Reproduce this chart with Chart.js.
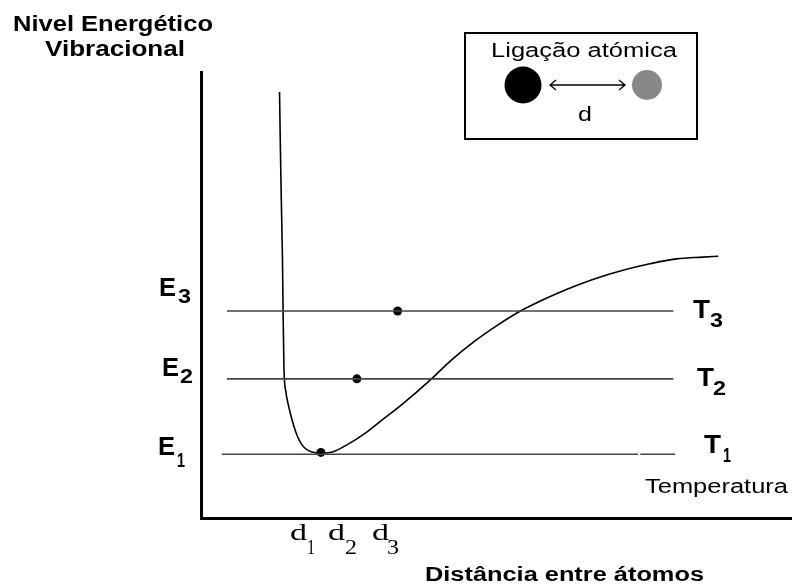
<!DOCTYPE html>
<html>
<head>
<meta charset="utf-8">
<script src="https://cdn.jsdelivr.net/npm/chart.js@4.4.0/dist/chart.umd.min.js"></script>
<style>
  html, body { margin: 0; padding: 0; background: #fff; }
  #wrap { width: 796px; height: 584px; }
</style>
</head>
<body>
<div id="wrap"><canvas id="c" width="796" height="584"></canvas></div>
<script>
// ---- data (x: distance, y: vibrational energy; arbitrary units 0..100) ----
const curveX = [13.3, 13.45, 13.6, 13.8, 13.9, 14.05, 14.35, 14.8, 15.3, 16.1, 17.1, 18.8, 20.3, 22.2, 24.7, 27.9, 30.9, 33.9, 36.3, 38.8, 42.4, 46.4, 50.3, 54.1, 58.2, 62.0, 66.6, 71.6, 76.0, 80.5, 85.0, 87.6];
const curveY = [95.5, 82.5, 71.3, 57.8, 46.4, 33.5, 28.5, 25.3, 22.6, 19.1, 16.4, 14.8, 14.6, 14.8, 16.4, 19.1, 22.2, 25.3, 28.0, 30.9, 35.4, 39.7, 43.3, 46.4, 49.1, 51.3, 53.6, 55.6, 57.0, 58.1, 58.5, 58.7];
const levels = [14.3, 31.2, 46.4];          // E1, E2, E3
const levelStart = [3.5, 4.4, 4.4];
const levelEnd = [80.3, 80.0, 80.0];
const e1GapFrom = 74.0, e1GapTo = 74.4;
const dotX = [20.3, 26.4, 33.3];            // d1, d2, d3
const energyLabels = ['E', 'E', 'E'];
const tempLabels = ['T', 'T', 'T'];
const distLabels = ['d', 'd', 'd'];
const subs = ['1', '2', '3'];
const yTitle = ['Nivel Energético', 'Vibracional'];
const xTitle = 'Distância entre átomos';
const tempTitle = 'Temperatura';
const insetTitle = 'Ligação atómica';
const insetD = 'd';

const curve = curveX.map((x, i) => ({ x, y: curveY[i] }));
const levelSets = levels.map((y, i) => {
  if (i === 0) {
    return [{ x: levelStart[i], y }, { x: e1GapFrom, y }, { x: (e1GapFrom + e1GapTo) / 2, y: null }, { x: e1GapTo, y }, { x: levelEnd[i], y }];
  }
  return [{ x: levelStart[i], y }, { x: levelEnd[i], y }];
});
const dots = dotX.map((x, i) => ({ x, y: levels[i] + (i === 0 ? 0.4 : 0) }));

function txt(ctx, s, left, base, font, w) {
  ctx.save();
  ctx.font = font;
  const m = ctx.measureText(s).width;
  const sx = w ? w / m : 1;
  ctx.translate(left, base);
  ctx.scale(sx, 1);
  ctx.textAlign = 'left';
  ctx.textBaseline = 'alphabetic';
  ctx.fillStyle = '#000';
  ctx.fillText(s, 0, 0);
  ctx.restore();
}

const decor = {
  id: 'decor',
  afterDraw(chart) {
    const ctx = chart.ctx;
    const SANS = '"Liberation Sans", Arial, sans-serif';
    const SERIF = '"Liberation Serif", "Times New Roman", serif';
    // axis titles
    txt(ctx, yTitle[0], 13, 31, 'bold 22px ' + SANS, 200);
    txt(ctx, yTitle[1], 45, 56, 'bold 22px ' + SANS, 140);
    txt(ctx, xTitle, 425, 581, 'bold 20px ' + SANS, 279);
    txt(ctx, tempTitle, 645, 493, '20px ' + SANS, 143);

    // energy labels
    const eLeft = [158, 162, 159], eBase = [455, 376, 296], sLeft = [177, 180, 178], sBase = [467, 383, 303];
    for (let i = 0; i < 3; i++) {
      txt(ctx, energyLabels[i], eLeft[i], eBase[i], 'bold 25px ' + SANS, 17);
      txt(ctx, subs[i], sLeft[i], sBase[i], 'bold 20px ' + SANS, i === 0 ? 8 : 13);
    }
    // temperature labels
    const tLeft = [704, 697, 693], tBase = [453, 386, 318], tsLeft = [723, 713, 710], tsBase = [462, 395, 327];
    for (let i = 0; i < 3; i++) {
      txt(ctx, tempLabels[i], tLeft[i], tBase[i], 'bold 25px ' + SANS, 17);
      txt(ctx, subs[i], tsLeft[i], tsBase[i], 'bold 20px ' + SANS, i === 0 ? 8 : 13);
    }
    // distance labels
    const dLeft = [290, 328, 372], dsLeft = [307, 345, 387];
    for (let i = 0; i < 3; i++) {
      txt(ctx, distLabels[i], dLeft[i], 540, '23px ' + SERIF, 17);
      txt(ctx, subs[i], dsLeft[i], 554, '20px ' + SERIF, i === 0 ? 8 : 12);
    }

    // inset box
    ctx.save();
    ctx.strokeStyle = '#000';
    ctx.lineWidth = 2;
    ctx.strokeRect(465, 33, 232, 106);
    txt(ctx, insetTitle, 491, 57, '20px ' + SANS, 186);
    ctx.fillStyle = '#000';
    ctx.beginPath(); ctx.arc(523, 85, 18.5, 0, Math.PI * 2); ctx.fill();
    ctx.fillStyle = '#888';
    ctx.beginPath(); ctx.arc(647, 85, 15, 0, Math.PI * 2); ctx.fill();
    ctx.strokeStyle = '#000';
    ctx.lineWidth = 1.3;
    ctx.beginPath();
    ctx.moveTo(550, 85); ctx.lineTo(625, 85);
    ctx.moveTo(556, 80); ctx.lineTo(550, 85); ctx.lineTo(556, 90);
    ctx.moveTo(619, 80); ctx.lineTo(625, 85); ctx.lineTo(619, 90);
    ctx.stroke();
    ctx.restore();
    ctx.save();
    ctx.font = '20px ' + SANS;
    ctx.textAlign = 'center';
    ctx.fillStyle = '#000';
    ctx.translate(585, 121);
    ctx.scale(1.25, 1);
    ctx.fillText(insetD, 0, 0);
    ctx.restore();
  }
};

new Chart(document.getElementById('c'), {
  type: 'scatter',
  data: {
    datasets: [
      ...levelSets.map((d) => ({
        data: d, showLine: true, spanGaps: false, borderColor: '#444', borderWidth: 1.6,
        pointRadius: 0, tension: 0
      })),
      {
        data: curve, showLine: true, borderColor: '#000', borderWidth: 1.6,
        pointRadius: 0, cubicInterpolationMode: 'monotone'
      },
      {
        data: dots, showLine: false, pointRadius: 4.5, pointBackgroundColor: '#000',
        pointBorderColor: '#000', pointBorderWidth: 0
      }
    ]
  },
  options: {
    responsive: false,
    devicePixelRatio: 1,
    animation: false,
    layout: { padding: { left: 201, top: 72, right: 0, bottom: 66 } },
    plugins: { legend: { display: false }, tooltip: { enabled: false }, title: { display: false } },
    scales: {
      x: {
        type: 'linear', min: 0, max: 100,
        ticks: { display: false },
        grid: { display: false, drawTicks: false },
        border: { display: true, color: '#000', width: 3 }
      },
      y: {
        type: 'linear', min: 0, max: 100,
        ticks: { display: false },
        grid: { display: false, drawTicks: false },
        border: { display: true, color: '#000', width: 3 }
      }
    }
  },
  plugins: [decor]
});
</script>
</body>
</html>
